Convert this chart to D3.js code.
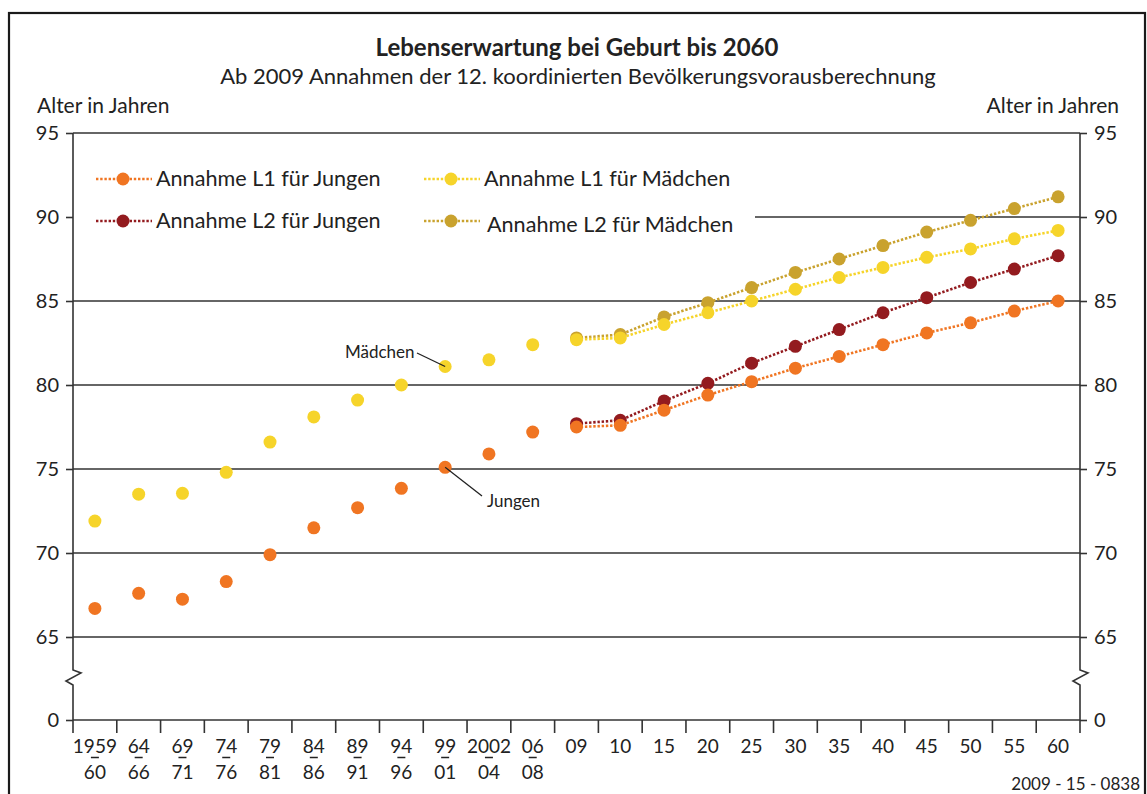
<!DOCTYPE html>
<html>
<head>
<meta charset="utf-8">
<script src="https://cdn.jsdelivr.net/npm/d3@7"></script>
<style>
  body { margin: 0; background: #fff; }
  svg { display: block; font-family: Lato, "Open Sans", sans-serif; }
</style>
</head>
<body>
<svg id="chart" width="1147" height="794"></svg>
<script>
// ---------- data ----------
const catTop    = ["1959","64","69","74","79","84","89","94","99","2002","06","09","10","15","20","25","30","35","40","45","50","55","60"];
const catBottom = ["60","66","71","76","81","86","91","96","01","04","08","","","","","","","","","","","",""];

const histCats   = ["1959","64","69","74","79","84","89","94","99","2002","06"];
const histGirls  = [71.9, 73.5, 73.55, 74.8, 76.6, 78.1, 79.1, 80.0, 81.1, 81.5, 82.4];
const histBoys   = [66.7, 67.6, 67.25, 68.3, 69.9, 71.5, 72.7, 73.85, 75.1, 75.9, 77.2];

const projCats   = ["09","10","15","20","25","30","35","40","45","50","55","60"];
const l1Boys     = [77.5, 77.6, 78.5, 79.4, 80.2, 81.0, 81.7, 82.4, 83.1, 83.7, 84.4, 85.0];
const l2Boys     = [77.7, 77.9, 79.05, 80.1, 81.3, 82.3, 83.3, 84.3, 85.2, 86.1, 86.9, 87.7];
const l1Girls    = [82.7, 82.8, 83.6, 84.3, 85.0, 85.7, 86.4, 87.0, 87.6, 88.1, 88.7, 89.2];
const l2Girls    = [82.8, 83.0, 84.05, 84.9, 85.8, 86.7, 87.5, 88.3, 89.1, 89.8, 90.5, 91.2];

const yTicks     = [0, 65, 70, 75, 80, 85, 90, 95];

const seriesNames = ["Annahme L1 für Jungen", "Annahme L1 für Mädchen", "Annahme L2 für Jungen", "Annahme L2 für Mädchen"];

// ---------- styles ----------
const C = { orange: "#f07522", yellow: "#f6d42a", red: "#931b1f", gold: "#c9a22e", ink: "#222", grid: "#333" };

const svg = d3.select("#chart");

const left = 73, right = 1080;
const x = d3.scaleBand().domain(catTop).range([left, right]).padding(0);
const cx = d => x(d) + x.bandwidth() / 2;
const y = d3.scaleLinear().domain([0, 65, 95]).range([720, 637, 133]);

// frame
svg.append("rect").attr("x", 9).attr("y", 13).attr("width", 1136).attr("height", 800)
  .attr("fill", "none").attr("stroke", "#1a1a1a").attr("stroke-width", 2.2);

// titles
svg.append("text").attr("x", 577).attr("y", 56).attr("text-anchor", "middle")
  .attr("font-size", 24).attr("font-weight", "bold").attr("fill", C.ink)
  .text("Lebenserwartung bei Geburt bis 2060");
svg.append("text").attr("x", 578).attr("y", 84).attr("text-anchor", "middle")
  .attr("font-size", 22).attr("fill", C.ink)
  .text("Ab 2009 Annahmen der 12. koordinierten Bevölkerungsvorausberechnung");
svg.append("text").attr("x", 37).attr("y", 113).attr("font-size", 21).attr("fill", C.ink).text("Alter in Jahren");
svg.append("text").attr("x", 1119).attr("y", 113).attr("text-anchor", "end").attr("font-size", 21).attr("fill", C.ink).text("Alter in Jahren");

// gridlines
const fullGrid = [65, 70, 75, 80, 85, 95];
svg.append("g").selectAll("line").data(fullGrid).join("line")
  .attr("x1", left).attr("x2", right).attr("y1", d => y(d)).attr("y2", d => y(d))
  .attr("stroke", C.grid).attr("stroke-width", 1.6);
svg.append("line").attr("x1", 755).attr("x2", right).attr("y1", y(90)).attr("y2", y(90))
  .attr("stroke", C.grid).attr("stroke-width", 1.6);
// x baseline
svg.append("line").attr("x1", left).attr("x2", right).attr("y1", y(0)).attr("y2", y(0))
  .attr("stroke", C.grid).attr("stroke-width", 1.6);

// y axes (ticks + labels)
const axL = svg.append("g").attr("transform", `translate(${left},0)`)
  .call(d3.axisLeft(y).tickValues(yTicks).tickSize(7).tickSizeOuter(0).tickPadding(7));
const axR = svg.append("g").attr("transform", `translate(${right},0)`)
  .call(d3.axisRight(y).tickValues(yTicks).tickSize(7).tickSizeOuter(0).tickPadding(7));
[axL, axR].forEach(g => {
  g.select(".domain").remove();
  g.selectAll(".tick line").attr("stroke", C.grid).attr("stroke-width", 1.6);
  g.selectAll(".tick text").attr("font-size", 20).attr("fill", C.ink).attr("font-family", "Lato, sans-serif");
});

// axis lines with break
function breakPath(ax) {
  const p = d3.path();
  p.moveTo(ax, y(95)); p.lineTo(ax, 670);
  p.lineTo(ax + 8, 673); p.lineTo(ax - 7, 681); p.lineTo(ax, 685);
  p.lineTo(ax, y(0));
  return p.toString();
}
[left, right].forEach(ax => svg.append("path").attr("d", breakPath(ax))
  .attr("fill", "none").attr("stroke", C.grid).attr("stroke-width", 1.6));

// x ticks at band boundaries
const bounds = catTop.map(d => x(d)).concat([right]);
svg.append("g").selectAll("line").data(bounds).join("line")
  .attr("x1", d => d).attr("x2", d => d).attr("y1", y(0)).attr("y2", y(0) + 13)
  .attr("stroke", C.grid).attr("stroke-width", 1.6);

// x labels
const xl = svg.append("g").attr("font-size", 19).attr("fill", C.ink).attr("text-anchor", "middle");
xl.selectAll("text.top").data(catTop).join("text").attr("class", "top")
  .attr("x", d => cx(d)).attr("y", 753).text(d => d);
xl.selectAll("text.bot").data(catTop.filter((d, i) => catBottom[i] !== "")).join("text").attr("class", "bot")
  .attr("x", d => cx(d)).attr("y", 779).text(d => catBottom[catTop.indexOf(d)]);
svg.append("g").selectAll("line").data(catTop.filter((d, i) => catBottom[i] !== "")).join("line")
  .attr("x1", d => cx(d) - 4).attr("x2", d => cx(d) + 4).attr("y1", 757.5).attr("y2", 757.5)
  .attr("stroke", C.ink).attr("stroke-width", 1.5);

// source code
svg.append("text").attr("x", 1140).attr("y", 790).attr("text-anchor", "end")
  .attr("font-size", 17).attr("fill", C.ink).text("2009 - 15 - 0838");

// historical points
const R = 6.5;
svg.append("g").selectAll("circle").data(histCats.map((c, i) => [c, histGirls[i]])).join("circle")
  .attr("cx", d => cx(d[0])).attr("cy", d => y(d[1])).attr("r", R).attr("fill", C.yellow);
svg.append("g").selectAll("circle").data(histCats.map((c, i) => [c, histBoys[i]])).join("circle")
  .attr("cx", d => cx(d[0])).attr("cy", d => y(d[1])).attr("r", R).attr("fill", C.orange);

// projections: draw L2 first, L1 on top
const proj = [
  { vals: l2Girls, color: C.gold },
  { vals: l1Girls, color: C.yellow },
  { vals: l2Boys,  color: C.red },
  { vals: l1Boys,  color: C.orange }
];
const line = d3.line().x(d => cx(d[0])).y(d => y(d[1]));
proj.forEach(s => {
  const pts = projCats.map((c, i) => [c, s.vals[i]]);
  svg.append("path").datum(pts).attr("d", line).attr("fill", "none")
    .attr("stroke", s.color).attr("stroke-width", 2.6).attr("stroke-dasharray", "2.4,1.8");
  svg.append("g").selectAll("circle").data(pts).join("circle")
    .attr("cx", d => cx(d[0])).attr("cy", d => y(d[1])).attr("r", R).attr("fill", s.color);
});

// annotations
const ann = svg.append("g").attr("font-size", 17).attr("fill", C.ink);
ann.append("text").attr("x", 345).attr("y", 358).text("Mädchen");
ann.append("line").attr("x1", 417).attr("y1", 353).attr("x2", cx("99")).attr("y2", y(histGirls[8]))
  .attr("stroke", C.ink).attr("stroke-width", 1.3);
ann.append("text").attr("x", 487).attr("y", 507).text("Jungen");
ann.append("line").attr("x1", cx("99")).attr("y1", y(histBoys[8])).attr("x2", 482).attr("y2", 496)
  .attr("stroke", C.ink).attr("stroke-width", 1.3);

// legend
const legend = [
  { name: seriesNames[0], color: C.orange, lx: 96,  ty: 179, tx: 156 },
  { name: seriesNames[1], color: C.yellow, lx: 424, ty: 179, tx: 484 },
  { name: seriesNames[2], color: C.red,    lx: 96,  ty: 221, tx: 156 },
  { name: seriesNames[3], color: C.gold,   lx: 424, ty: 221, tx: 487, dy: 4 }
];
const lg = svg.append("g");
legend.forEach(l => {
  lg.append("line").attr("x1", l.lx).attr("x2", l.lx + 56).attr("y1", l.ty).attr("y2", l.ty)
    .attr("stroke", l.color).attr("stroke-width", 2.6).attr("stroke-dasharray", "2.4,1.8");
  lg.append("circle").attr("cx", l.lx + 27).attr("cy", l.ty).attr("r", R).attr("fill", l.color);
  lg.append("text").attr("x", l.tx).attr("y", l.ty + 7 + (l.dy || 0)).attr("font-size", 21.6)
    .attr("fill", C.ink).text(l.name);
});
</script>
</body>
</html>
